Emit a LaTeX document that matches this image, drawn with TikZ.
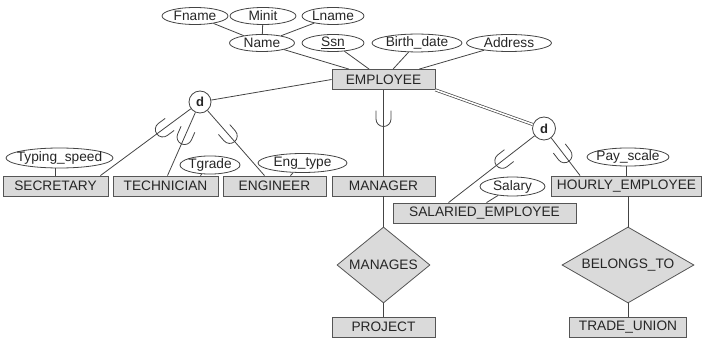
\documentclass[tikz,border=0pt]{standalone}
\usepackage{fontspec}
\setmainfont{Liberation Sans}
\usetikzlibrary{shapes.geometric,calc}
\definecolor{boxfill}{HTML}{DADADA}
\definecolor{boxline}{HTML}{555555}
\definecolor{lc}{HTML}{444444}
\definecolor{txt}{HTML}{262626}
\newcommand{\lbl}[1]{\makebox[0pt]{#1}}
\tikzset{
  fs/.style={font=\fontsize{13.7}{15}\selectfont},
  link/.style={draw=lc, line width=0.8pt},
  ent/.style={rectangle, draw=boxline, fill=boxfill, line width=0.8pt,
    minimum height=20pt, inner sep=0pt, fs, text=txt},
  attr/.style={ellipse, draw=lc, fill=white, line width=0.8pt,
    minimum height=17pt, inner sep=0pt, fs, text=txt},
  rel/.style={diamond, draw=boxline, fill=boxfill, line width=0.8pt,
    inner sep=0pt, minimum height=76pt, fs, text=txt},
  disj/.style={circle, draw=lc, fill=white, line width=0.8pt, inner sep=0pt,
    font=\fontsize{13}{14}\selectfont\bfseries, text=txt},
  cup/.pic={\draw[link] (-8.5pt,7.5pt) -- (0pt,7.5pt)
      arc[start angle=90, end angle=-90, radius=7.5pt] -- (-8.5pt,-7.5pt);},
  cupat/.style={pos=#1, sloped, allow upside down},
  dbl/.style={draw=lc, line width=0.7pt, double=white, double distance=1.6pt}
}
\begin{document}
\begin{tikzpicture}[x=1pt, y=-1pt]
\useasboundingbox (0,0) rectangle (702,339);

% entities
\node[ent, minimum width=103pt] (emp)  at (383.5,79.5) {EMPLOYEE};
\node[ent, minimum width=105pt] (sec)  at (55.5,186)  {SECRETARY};
\node[ent, minimum width=105pt] (tech) at (165.5,186) {TECHNICIAN};
\node[ent, minimum width=103pt] (eng)  at (274.5,186) {ENGINEER};
\node[ent, minimum width=103pt] (mgr)  at (383.5,186) {MANAGER};
\node[ent, minimum width=150pt] (hour) at (626.5,186) {HOURLY\_EMPLOYEE};
\node[ent, minimum width=183pt] (sal)  at (484.5,213) {SALARIED\_EMPLOYEE};
\node[ent, minimum width=103pt] (proj) at (383.5,327) {PROJECT};
\node[ent, minimum width=117pt] (tu)   at (628,327)   {TRADE\_UNION};

% relationships
\node[rel, minimum width=93pt]  (manages) at (383.5,265) {\lbl{MANAGES}};
\node[rel, minimum width=132pt] (belongs) at (628,265)   {\lbl{BELONGS\_TO}};

% attributes
\node[attr, minimum width=66pt] (fn)   at (195,16)   {\lbl{Fname}};
\node[attr, minimum width=66pt] (mi)   at (263,16)   {\lbl{Minit}};
\node[attr, minimum width=62pt] (ln)   at (333,16)   {\lbl{Lname}};
\node[attr, minimum width=65pt] (name) at (262,43)   {\lbl{Name}};
\node[attr, minimum width=62pt] (ssn)  at (333,43)   {\lbl{\underline{Ssn}}};
\node[attr, minimum width=90pt] (bd)   at (417,43)   {\lbl{Birth\_date}};
\node[attr, minimum width=85pt] (addr) at (509,43)   {\lbl{Address}};
\node[attr, minimum width=107pt, minimum height=20pt] (typ) at (59.5,158) {\lbl{Typing\_speed}};
\node[attr, minimum width=60pt] (tg)   at (210,165)  {\lbl{Tgrade}};
\node[attr, minimum width=89pt, minimum height=19pt] (et) at (302.5,163) {\lbl{Eng\_type}};
\node[attr, minimum width=65pt, minimum height=19pt] (slr) at (512.5,186.5) {\lbl{Salary}};
\node[attr, minimum width=82pt, minimum height=18pt] (pay) at (628,157) {\lbl{Pay\_scale}};

% disjointness circles
\node[disj, minimum size=22pt] (dl) at (200,102)   {d};
\node[disj, minimum size=23pt] (dr) at (544,128.5) {d};

% composite attribute
\draw[link] (fn) -- (name);
\draw[link] (mi) -- (name);
\draw[link] (ln) -- (name);

% attributes of EMPLOYEE
\draw[link] (name) -- (emp);
\draw[link] (ssn)  -- (emp);
\draw[link] (bd)   -- (emp);
\draw[link] (addr) -- (emp);

% attributes of subclasses
\draw[link] (sec.north) -- (sec.north |- typ.south);
\draw[link] (tg) -- ($(tech.north east)+(-18,0)$);
\draw[link] (et) -- ($(eng.north east)+(-36,0)$);
\draw[link] (slr) -- ($(sal.north)+(2,0)$);
\draw[link] (hour.north) -- (hour.north |- pay.south);

% specialization by job type
\draw[link] (emp.west) -- (dl);
\draw[link] (dl) -- pic[cupat=0.31]{cup} ($(sec.north east)+(-8,0)$);
\draw[link] (dl) -- pic[cupat=0.39]{cup} ($(tech.north)+(2,0)$);
\draw[link] (dl) -- pic[cupat=0.39]{cup} ($(eng.north)+(-10,0)$);

% subset MANAGER
\draw[link] (emp) -- pic[cupat=0.34]{cup} (mgr);

% specialization by pay method (total)
\draw[dbl] (emp.south east) -- (dr);
\draw[link] (dr) -- pic[cupat=0.375]{cup} ($(sal.north)+(-36,0)$);
\draw[link] (dr) -- pic[cupat=0.46]{cup} ($(hour.north west)+(29,0)$);

% relationships
\draw[link] (mgr) -- (manages);
\draw[link] (manages) -- (proj);
\draw[link] (hour.south -| belongs) -- (belongs);
\draw[link] (belongs) -- (tu);
\end{tikzpicture}
\end{document}
